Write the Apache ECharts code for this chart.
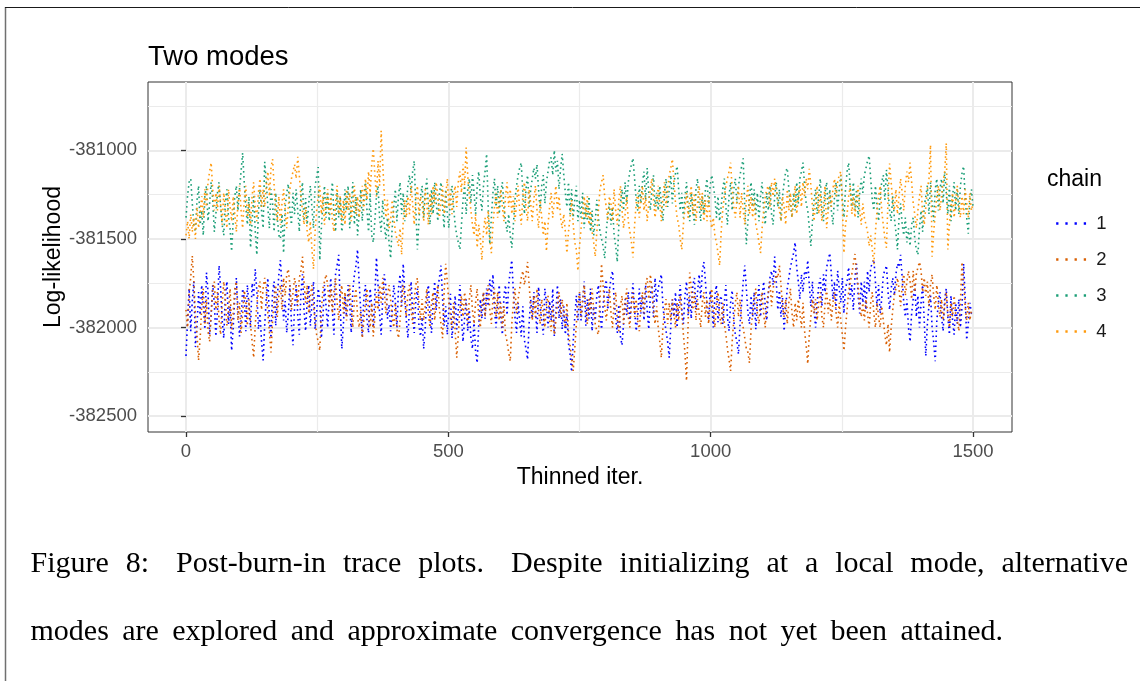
<!DOCTYPE html>
<html>
<head>
<meta charset="utf-8">
<title>Two modes</title>
<script src="https://cdn.jsdelivr.net/npm/echarts@6/dist/echarts.min.js"></script>
<style>
  html, body { margin: 0; padding: 0; background: #ffffff; }
  #chart { width: 1140px; height: 681px; }
</style>
</head>
<body>
<div id="chart"></div>
<script>
// Thinned MCMC iterations: one stored value every ITER_STEP iterations.
const ITER_STEP = 3;

// Log-likelihood traces of the four chains (iterations 0, 3, ..., 1500).
const chain1 = [
  -382160, -381960, -381780, -382020, -381850, -381740, -382110, -381990, -381800, -381930,
  -381760, -381880, -382010, -381690, -381800, -382040, -381930, -381760, -381870, -382050,
  -381900, -381650, -381780, -381960, -382060, -381820, -381740, -381980, -381880, -382130,
  -382000, -381830, -381720, -381900, -382050, -381960, -381780, -381840, -382020, -381760,
  -381880, -382000, -381750, -381830, -381670, -381790, -382010, -381920, -382080, -382185,
  -381990, -381840, -381720, -381950, -382060, -381800, -381740, -381990, -381830, -381700,
  -381620, -381780, -381960, -381850, -382030, -381920, -381760, -381980, -382100, -381880,
  -381760, -381930, -382040, -381810, -381700, -381900, -382020, -381850, -381760, -381990,
  -381870, -381740, -382010, -381920, -381780, -381840, -382060, -381940, -381760, -381880,
  -382000, -381830, -381720, -381900, -382040, -381700, -381650, -381590, -381880, -382120,
  -381980, -381820, -381940, -381760, -381860, -382030, -381790, -381700, -381650, -381560,
  -381740, -381900, -382050, -381830, -381760, -381960, -382030, -381780, -381880, -382000,
  -381820, -381605, -381760, -381920, -382040, -381830, -381700, -381770, -381950, -381870,
  -382020, -381900, -381760, -381850, -382000, -381780, -381700, -381880, -381640, -381800,
  -381960, -382060, -381880, -381740, -381920, -382030, -381850, -381780, -381990, -382050,
  -381940, -382120, -382000, -381820, -381760, -381940, -382030, -381860, -381740, -381900,
  -381780, -381720, -381650, -381830, -381990, -381880, -382040, -381900, -381810, -382060,
  -381960, -381820, -382010, -381900, -381760, -381930, -382080, -381950, -381840, -382020,
  -381900, -382060, -382120, -381960, -382140, -382200, -381980, -381840, -381950, -381800,
  -381950, -381780, -381880, -381730, -381820, -381700, -381900, -382000, -381860, -381760,
  -381940, -382040, -381820, -381760, -381930, -381760, -381680, -381620, -381800, -381940,
  -382030, -381860, -381960, -382050, -381880, -382070, -382120, -382180, -381980, -381840,
  -381950, -381800, -381900, -382030, -381770, -381880, -381960, -382040, -381780, -381860,
  -382000, -381850, -381960, -381780, -382050, -381920, -381760, -381950, -381840, -382010,
  -381880, -382040, -381920, -382090, -382150, -382250, -382080, -381940, -381820, -381960,
  -381800, -381960, -381860, -381740, -381990, -381840, -381950, -381780, -382020, -381880,
  -381960, -381820, -381760, -381900, -382010, -381880, -381780, -381730, -381900, -381790,
  -381720, -381680, -381840, -381950, -382030, -381870, -382050, -382100, -381980, -381840,
  -381930, -381800, -381960, -381850, -381750, -381900, -382020, -381940, -381780, -381920,
  -381820, -381960, -381760, -381900, -382010, -381820, -381760, -381940, -381720, -381860,
  -381780, -381740, -381700, -381880, -381960, -382020, -382080, -382170, -381990, -381840,
  -381940, -381800, -382000, -381860, -381760, -381900, -381980, -381820, -381740, -381930,
  -381820, -381950, -381760, -381720, -381900, -381800, -381700, -381840, -381680, -381630,
  -381740, -381880, -381960, -381790, -381860, -382000, -381820, -381760, -381970, -381850,
  -381820, -381980, -381860, -381760, -381940, -382020, -381860, -381790, -381960, -382040,
  -382080, -382150, -381980, -381860, -381740, -381650, -381780, -381920, -381980, -381820,
  -381940, -381800, -382010, -381860, -381760, -381940, -381830, -381740, -381880, -381960,
  -381800, -381720, -381680, -381760, -381600, -381740, -381900, -381790, -381940, -381830,
  -382020, -381880, -381780, -381720, -381660, -381620, -381580, -381520, -381660, -381740,
  -381840, -381700, -381800, -381680, -381720, -381620, -381760, -381880, -381740, -381900,
  -382000, -381860, -381760, -381720, -381880, -381700, -381800, -381660, -381620, -381580,
  -381700, -381840, -381740, -381900, -381680, -381780, -381860, -381720, -381920, -381780,
  -381740, -381660, -381840, -381760, -381900, -381720, -381640, -381820, -381920, -381740,
  -381860, -381740, -381900, -381680, -381800, -381660, -381640, -381615, -381740, -381880,
  -381760, -381920, -381840, -381700, -381680, -381650, -381800, -381900, -381780, -381720,
  -381820, -381700, -381640, -381660, -381590, -381720, -381860, -381940, -381840, -382000,
  -382080, -381920, -381840, -381760, -381940, -381820, -382000, -381860, -381760, -381960,
  -382160, -381980, -381880, -381820, -382000, -382080, -382190, -381960, -381860, -381800,
  -381940, -382020, -381840, -381780, -381940, -382040, -381820, -381960, -382040, -381860,
  -381980, -381840, -382000, -381880, -381640, -381820, -382070, -381980, -381860, -381920,
  -381920
];

const chain2 = [
  -381900, -382000, -381800, -381720, -381595, -381740, -381940, -382040, -382185, -382060,
  -381880, -381780, -381980, -381840, -382020, -382080, -381920, -381780, -381740, -381900,
  -381800, -381960, -382040, -381860, -381740, -381840, -381990, -381920, -381780, -382010,
  -381920, -381780, -381740, -381960, -381860, -382030, -381920, -381790, -381850, -381990,
  -381840, -381980, -382080, -382170, -381980, -381880, -381780, -381740, -381900, -381780,
  -381720, -381780, -381920, -382020, -382140, -381960, -381840, -381760, -381940, -381820,
  -381760, -381900, -381720, -381820, -381700, -381670, -381760, -381900, -381800, -381720,
  -381780, -381880, -381720, -381680, -381600, -381740, -381860, -381760, -381920, -381820,
  -381760, -381880, -381960, -382040, -382080, -382130, -381900, -381780, -381740, -381700,
  -381760, -381880, -381780, -381920, -381800, -381720, -381860, -381960, -381820, -381760,
  -381920, -381800, -381960, -381840, -381760, -381900, -382000, -381840, -381780, -381940,
  -382000, -381900, -382060, -381960, -381860, -381780, -381920, -382000, -381860, -382050,
  -381940, -381800, -381900, -381760, -381860, -381720, -381800, -381920, -381820, -381760,
  -381840, -381940, -382000, -381860, -382010, -382060, -381960, -381840, -381760, -381860,
  -381940, -381800, -381760, -381900, -381980, -381840, -381760, -381720, -381860, -381960,
  -381840, -381960, -381880, -381780, -381920, -382000, -381860, -381800, -381960, -381840,
  -381760, -381900, -381980, -382060, -381800, -381640, -381740, -381860, -381940, -382000,
  -381860, -382020, -382170, -382040, -381900, -381820, -381940, -381800, -381880, -381980,
  -381840, -381760, -381900, -381980, -381860, -381780, -381940, -382000, -381860, -381800,
  -381940, -381820, -381760, -381900, -381980, -381840, -381780, -381940, -381800, -381960,
  -381860, -382000, -381880, -382040, -382080, -382140, -382190, -381980, -381860, -381780,
  -381920, -381840, -381780, -381720, -381680, -381760, -381700, -381630, -381760, -381880,
  -381960, -381820, -381940, -381780, -381900, -381980, -381840, -381920, -382000, -381860,
  -381820, -381960, -382020, -381880, -382040, -381960, -381860, -381800, -381940, -381840,
  -381920, -382000, -381860, -382030, -382100, -382170, -382245, -382120, -381980, -381860,
  -381800, -381940, -381840, -381760, -381900, -381980, -381840, -381920, -381780, -381900,
  -381980, -382020, -382040, -381840, -381640, -381760, -381880, -381960, -381860, -381780,
  -381920, -382000, -381860, -381800, -381960, -382020, -381880, -381820, -381980, -381860,
  -381780, -381940, -382000, -381860, -381800, -381940, -381840, -381960, -382020, -381880,
  -381800, -381920, -381760, -381720, -381840, -381700, -381780, -381900, -381980, -381880,
  -382000, -382080, -382170, -382000, -381900, -381840, -381980, -381860, -381960, -381840,
  -381920, -382000, -381860, -381960, -381820, -381920, -382040, -382140, -382300, -381980,
  -381690, -381780, -381900, -381800, -381960, -381840, -381920, -382000, -381860, -381800,
  -381940, -381840, -381980, -381860, -381780, -381920, -382000, -381860, -381800, -381940,
  -381980, -381860, -381980, -382040, -382120, -382180, -382245, -382080, -381960, -381860,
  -381800, -381940, -381840, -381960, -382000, -382060, -382120, -382140, -382200, -382000,
  -381920, -381840, -381780, -381920, -381980, -381860, -381800, -381920, -382000, -381860,
  -381800, -381740, -381880, -381780, -381740, -381700, -381720, -381650, -381760, -381880,
  -381940, -381840, -381980, -381860, -381780, -381920, -382000, -381860, -381960, -381840,
  -381920, -382000, -381860, -382020, -382100, -382205, -382040, -381940, -381840, -381920,
  -381840, -381960, -381860, -381800, -381940, -382000, -381860, -381780, -381920, -381840,
  -381960, -381860, -381800, -381920, -382000, -381860, -381960, -382040, -382130, -382000,
  -381900, -381800, -381740, -381700, -381640, -381585, -381700, -381760, -381880, -381940,
  -381860, -381960, -381840, -381920, -382000, -381860, -381800, -381920, -382000, -381860,
  -381940, -382000, -381880, -381960, -382040, -382100, -381980, -382140, -382000, -381900,
  -381820, -381780, -381720, -381780, -381880, -381760, -381700, -381820, -381740, -381680,
  -381740, -381840, -381680, -381800, -381700, -381660, -381630, -381680, -381800, -381720,
  -381820, -381740, -381880, -381760, -381700, -381820, -381900, -381760, -381860, -381940,
  -381840, -381960, -381880, -381800, -381920, -382000, -381860, -381940, -381820, -381920,
  -381960, -382020, -381860, -381630, -381740, -381880, -381960, -381860, -381960, -381900,
  -381900
];

const chain3 = [
  -381380, -381260, -381180, -381160, -381300, -381420, -381460, -381280, -381200, -381420,
  -381340, -381480, -381260, -381200, -381400, -381300, -381180, -381280, -381460, -381360,
  -381240, -381180, -381320, -381420, -381480, -381300, -381220, -381380, -381440, -381570,
  -381400, -381260, -381200, -381340, -381220, -381120, -381015, -381180, -381320, -381420,
  -381260, -381550, -381400, -381260, -381460, -381590, -381360, -381220, -381340, -381440,
  -381065, -381180, -381320, -381440, -381220, -381300, -381460, -381240, -381380, -381480,
  -381500, -381360, -381580, -381320, -381240, -381190, -381340, -381420, -381240, -381360,
  -381220, -381340, -381460, -381260, -381180, -381400, -381270, -381420, -381300, -381200,
  -381320, -381440, -381200, -381150, -381095, -381620, -381440, -381300, -381200, -381380,
  -381240, -381400, -381280, -381180, -381360, -381460, -381240, -381380, -381260, -381460,
  -381380, -381220, -381340, -381200, -381440, -381300, -381180, -381420, -381260, -381480,
  -381360, -381220, -381400, -381260, -381180, -381340, -381460, -381240, -381480, -381520,
  -381400, -381260, -381200, -381380, -381460, -381280, -381420, -381500, -381380, -381520,
  -381610, -381440, -381320, -381220, -381400, -381260, -381180, -381360, -381240, -381400,
  -381300, -381200, -381140, -381240, -381120, -381060, -381320, -381560, -381400, -381260,
  -381200, -381380, -381240, -381160, -381320, -381420, -381220, -381360, -381180, -381300,
  -381400, -381240, -381180, -381320, -381440, -381220, -381360, -381440, -381260, -381200,
  -381320, -381420, -381480, -381520, -381560, -381420, -381280, -381200, -381360, -381220,
  -381160, -381300, -381140, -381240, -381360, -381200, -381120, -381260, -381340, -381200,
  -381120, -381020, -381320, -381530, -381380, -381240, -381160, -381320, -381200, -381360,
  -381240, -381180, -381320, -381400, -381460, -381360, -381480, -381550, -381420, -381280,
  -381200, -381140, -381100, -381070, -381240, -381360, -381220, -381140, -381320, -381220,
  -381160, -381100, -381160, -381080, -381220, -381340, -381200, -381140, -381300, -381180,
  -381120, -381060, -381040, -381140, -381000, -381120, -381060, -381220, -381100, -381020,
  -381140, -381240, -381320, -381180, -381360, -381220, -381380, -381280, -381200, -381400,
  -381280, -381380, -381240, -381440, -381300, -381400, -381260, -381460, -381340, -381480,
  -381400, -381280, -381380, -381460, -381500, -381540, -381610, -381460, -381360, -381300,
  -381420, -381320, -381480, -381540, -381630, -381420, -381300, -381220, -381340, -381180,
  -381300, -381180, -381120, -381080, -381045, -381160, -381280, -381340, -381200, -381300,
  -381180, -381120, -381280, -381100, -381240, -381340, -381220, -381140, -381320, -381240,
  -381340, -381200, -381300, -381400, -381240, -381160, -381320, -381220, -381140, -381300,
  -381180, -381130, -381090, -381220, -381340, -381240, -381380, -381260, -381180, -381320,
  -381400, -381240, -381320, -381420, -381220, -381160, -381320, -381400, -381260, -381360,
  -381220, -381160, -381320, -381200, -381140, -381130, -381260, -381380, -381260, -381400,
  -381320, -381220, -381160, -381320, -381420, -381260, -381180, -381340, -381220, -381160,
  -381300, -381200, -381140, -381090, -381045, -381320, -381530, -381400, -381260, -381180,
  -381320, -381220, -381360, -381240, -381400, -381260, -381180, -381340, -381420, -381240,
  -381340, -381200, -381360, -381420, -381260, -381180, -381320, -381220, -381400, -381260,
  -381180, -381120, -381100, -381220, -381300, -381380, -381240, -381340, -381180, -381300,
  -381160, -381120, -381070, -381200, -381300, -381340, -381440, -381540, -381400, -381280,
  -381220, -381360, -381260, -381160, -381340, -381400, -381240, -381180, -381340, -381220,
  -381340, -381420, -381260, -381180, -381340, -381220, -381140, -381280, -381380, -381220,
  -381120, -381070, -381220, -381320, -381180, -381340, -381220, -381380, -381240, -381160,
  -381240, -381140, -381100, -381060, -381030, -381160, -381280, -381340, -381200, -381320,
  -381400, -381260, -381180, -381140, -381280, -381110, -381220, -381340, -381400, -381260,
  -381380, -381460, -381560, -381380, -381300, -381420, -381480, -381380, -381520, -381440,
  -381540, -381420, -381380, -381500, -381560, -381590, -381440, -381340, -381460, -381320,
  -381260, -381200, -381360, -381180, -381300, -381400, -381220, -381160, -381340, -381220,
  -381160, -381300, -381120, -381240, -381360, -381200, -381400, -381260, -381180, -381340,
  -381220, -381360, -381200, -381130, -381090, -381260, -381380, -381470, -381280, -381220,
  -381320
];

const chain4 = [
  -381480, -381400, -381500, -381360, -381460, -381380, -381500, -381320, -381440, -381360,
  -381260, -381380, -381220, -381320, -381180, -381120, -381070, -381220, -381340, -381240,
  -381340, -381200, -381300, -381420, -381240, -381340, -381440, -381220, -381320, -381400,
  -381260, -381360, -381460, -381300, -381200, -381340, -381440, -381280, -381200, -381380,
  -381300, -381420, -381260, -381180, -381320, -381400, -381240, -381160, -381320, -381220,
  -381320, -381200, -381120, -381260, -381100, -381050, -381200, -381340, -381400, -381260,
  -381420, -381300, -381220, -381340, -381440, -381320, -381220, -381160, -381120, -381080,
  -381160, -381037, -381140, -381260, -381340, -381420, -381320, -381460, -381520, -381400,
  -381560, -381670, -381460, -381340, -381260, -381200, -381360, -381260, -381420, -381300,
  -381220, -381360, -381260, -381400, -381460, -381300, -381200, -381360, -381260, -381400,
  -381280, -381420, -381220, -381340, -381240, -381400, -381300, -381200, -381360, -381260,
  -381380, -381280, -381200, -381340, -381160, -381280, -381120, -381240, -381080, -380990,
  -381140, -381260, -381060, -381200, -380890, -381080, -381260, -381380, -381280, -381440,
  -381400, -381280, -381380, -381460, -381500, -381540, -381440, -381590, -381400, -381280,
  -381380, -381260, -381360, -381200, -381300, -381420, -381280, -381200, -381360, -381260,
  -381300, -381400, -381220, -381300, -381420, -381240, -381360, -381200, -381300, -381180,
  -381260, -381380, -381280, -381200, -381360, -381260, -381160, -381320, -381220, -381360,
  -381260, -381200, -381320, -381180, -381120, -381240, -381080, -381200, -380985, -381140,
  -381260, -381340, -381420, -381480, -381360, -381550, -381420, -381500, -381620, -381460,
  -381380, -381480, -381340, -381500, -381580, -381420, -381320, -381240, -381380, -381280,
  -381220, -381320, -381400, -381260, -381180, -381320, -381220, -381360, -381260, -381400,
  -381300, -381200, -381340, -381420, -381260, -381180, -381320, -381400, -381220, -381300,
  -381400, -381280, -381200, -381340, -381440, -381280, -381380, -381480, -381400, -381570,
  -381420, -381320, -381240, -381380, -381280, -381200, -381340, -381260, -381380, -381440,
  -381360, -381460, -381580, -381460, -381380, -381280, -381420, -381520, -381560, -381680,
  -381540, -381440, -381360, -381260, -381380, -381260, -381420, -381340, -381460, -381520,
  -381600, -381460, -381340, -381220, -381180, -381140, -381260, -381320, -381400, -381260,
  -381300, -381400, -381220, -381340, -381420, -381280, -381200, -381340, -381440, -381360,
  -381260, -381400, -381460, -381520, -381605, -381420, -381300, -381240, -381380, -381280,
  -381200, -381340, -381260, -381400, -381300, -381220, -381160, -381280, -381380, -381300,
  -381200, -381300, -381400, -381260, -381180, -381320, -381220, -381140, -381100, -381050,
  -381180, -381300, -381380, -381420, -381500, -381560, -381420, -381320, -381240, -381380,
  -381280, -381200, -381360, -381240, -381400, -381300, -381200, -381340, -381240, -381400,
  -381280, -381400, -381260, -381380, -381440, -381380, -381480, -381520, -381580, -381650,
  -381460, -381340, -381260, -381200, -381160, -381120, -381070, -381220, -381320, -381380,
  -381280, -381200, -381380, -381240, -381340, -381420, -381280, -381200, -381360, -381260,
  -381380, -381280, -381420, -381460, -381520, -381580, -381440, -381340, -381260, -381220,
  -381200, -381320, -381180, -381260, -381160, -381150, -381280, -381340, -381400, -381260,
  -381320, -381420, -381220, -381340, -381240, -381380, -381280, -381200, -381360, -381260,
  -381200, -381320, -381180, -381260, -381160, -381220, -381105, -381200, -381320, -381400,
  -381280, -381200, -381360, -381240, -381400, -381300, -381200, -381440, -381340, -381240,
  -381320, -381220, -381160, -381260, -381180, -381140, -381120, -381320, -381580, -381420,
  -381360, -381260, -381200, -381360, -381260, -381380, -381280, -381200, -381340, -381420,
  -381300, -381380, -381420, -381460, -381540, -381480, -381560, -381645, -381460, -381340,
  -381260, -381200, -381340, -381420, -381500, -381550, -381280, -381075, -381180, -381300,
  -381340, -381220, -381360, -381260, -381160, -381240, -381340, -381200, -381120, -381180,
  -381070, -381180, -381300, -381360, -381440, -381340, -381260, -381200, -381360, -381420,
  -381320, -381220, -381160, -380970, -381600, -381460, -381360, -381260, -381200, -381340,
  -381260, -381180, -381120, -380960, -381560, -381420, -381320, -381240, -381380, -381280,
  -381200, -381320, -381380, -381260, -381360, -381220, -381300, -381380, -381240, -381340,
  -381300
];

const chainNames = ['1', '2', '3', '4'];
const chainValues = [chain1, chain2, chain3, chain4];
const chainColors = ['#0000FF', '#D95F02', '#1B9E77', '#FF9A0D'];

// Axis breaks (major labelled ticks and minor grid positions).
const xMajorTicks = [0, 500, 1000, 1500];
const xMinorTicks = [250, 750, 1250];
const yMajorTicks = [-382500, -382000, -381500, -381000];
const yMinorTicks = [-382250, -381750, -381250, -380750];

const titleText = 'Two modes';
const xAxisTitle = 'Thinned iter.';
const yAxisTitle = 'Log-likelihood';
const legendTitle = 'chain';
const captionLines = [
  'Figure 8:  Post-burn-in trace plots.  Despite initializing at a local mode, alternative',
  'modes are explored and approximate convergence has not yet been attained.'
];

const SANS = '"Liberation Sans", Arial, Helvetica, sans-serif';
const SERIF = '"Liberation Serif", "Times New Roman", serif';

// Lay out one justified caption line word by word.
function justifiedLine(text, x0, x1, yMid, fontSize) {
  const words = text.split(/\s+/);
  const ctx = document.createElement('canvas').getContext('2d');
  ctx.font = fontSize + 'px ' + SERIF;
  const widths = words.map(w => ctx.measureText(w).width);
  const weights = words.slice(0, -1).map(w => (/[.:]$/.test(w) ? 1.6 : 1));
  const used = widths.reduce((a, b) => a + b, 0);
  const unit = ((x1 - x0) - used) / weights.reduce((a, b) => a + b, 0);
  const out = [];
  let x = x0;
  words.forEach((w, i) => {
    out.push({
      type: 'text', x: x, y: yMid, silent: true,
      style: {
        text: w, fontSize: fontSize, fontFamily: SERIF, fill: '#000000',
        align: 'left', verticalAlign: 'middle', textAlign: 'left', textVerticalAlign: 'middle'
      }
    });
    x += widths[i] + (i < weights.length ? weights[i] * unit : 0);
  });
  return out;
}

const chart = echarts.init(document.getElementById('chart'), null, { renderer: 'canvas' });

const xMin = -72.4, xMax = 1574.3;
const yMin = -382589, yMax = -380615;

const series = chainValues.map((vals, k) => ({
  name: chainNames[k],
  type: 'line',
  xAxisIndex: 0,
  yAxisIndex: 0,
  data: vals.map((v, i) => [i * ITER_STEP, v]),
  symbol: 'none',
  showSymbol: false,
  silent: true,
  clip: true,
  animation: false,
  lineStyle: { color: chainColors[k], width: 1.6, type: [1.6, 3.4], cap: 'butt' },
  itemStyle: { color: chainColors[k] },
  z: 3 + k
}));

const graphics = [
  { type: 'line', silent: true, shape: { x1: 5.5, y1: 7, x2: 5.5, y2: 681 }, style: { stroke: '#707070', lineWidth: 1.5 } },
  { type: 'line', silent: true, shape: { x1: 5, y1: 7.5, x2: 1140, y2: 7.5 }, style: { stroke: '#1A1A1A', lineWidth: 1 } },
  {
    type: 'text', x: 1047, y: 180, silent: true,
    style: { text: legendTitle, fontSize: 23, fontFamily: SANS, fill: '#000000',
             align: 'left', verticalAlign: 'middle', textAlign: 'left', textVerticalAlign: 'middle' }
  }
].concat(
  justifiedLine(captionLines[0], 30.5, 1128, 564, 30),
  justifiedLine(captionLines[1], 30.5, 1003, 632, 30)
);

chart.setOption({
  backgroundColor: '#ffffff',
  animation: false,
  title: {
    text: titleText, left: 143, top: 38,
    textStyle: { fontSize: 27.5, fontWeight: 'normal', color: '#000000', fontFamily: SANS }
  },
  grid: {
    left: 148, top: 82, width: 864, height: 350,
    show: true, borderColor: '#333333', borderWidth: 1, backgroundColor: 'transparent'
  },
  legend: {
    orient: 'vertical', left: 1050, top: 209,
    itemWidth: 30, itemHeight: 20, itemGap: 17,
    data: chainNames,
    selectedMode: false,
    itemStyle: { opacity: 0 },
    lineStyle: { width: 2.3, type: [2.3, 6.9], cap: 'butt' },
    textStyle: { fontSize: 18.5, color: '#1A1A1A', fontFamily: SANS, padding: [0, 0, 0, 5] }
  },
  xAxis: [
    {
      type: 'value', gridIndex: 0, position: 'bottom', min: xMin, max: xMax,
      name: xAxisTitle, nameLocation: 'middle', nameGap: 33,
      nameTextStyle: { fontSize: 23, color: '#000000', fontFamily: SANS },
      axisLine: { show: false },
      axisTick: { show: true, customValues: xMajorTicks, length: 5, lineStyle: { color: '#333333', width: 1.3 } },
      axisLabel: { customValues: xMajorTicks, fontSize: 18.5, color: '#4D4D4D', fontFamily: SANS, margin: 10,
                   formatter: v => String(v) },
      splitLine: { show: true, lineStyle: { color: '#EBEBEB', width: 2 } },
      z: 1
    },
    {
      type: 'value', gridIndex: 0, position: 'top', min: xMin, max: xMax,
      axisLine: { show: false },
      axisTick: { show: false, customValues: xMinorTicks },
      axisLabel: { show: false, customValues: xMinorTicks },
      splitLine: { show: true, lineStyle: { color: '#EBEBEB', width: 1.2 } },
      z: 0
    }
  ],
  yAxis: [
    {
      type: 'value', gridIndex: 0, position: 'left', min: yMin, max: yMax,
      name: yAxisTitle, nameLocation: 'middle', nameGap: 83, nameRotate: 90,
      nameMoveOverlap: false,
      nameTextStyle: { fontSize: 23, color: '#000000', fontFamily: SANS },
      axisLine: { show: false },
      axisTick: { show: true, customValues: yMajorTicks, length: 5, lineStyle: { color: '#333333', width: 1.3 } },
      axisLabel: { customValues: yMajorTicks, fontSize: 18.5, color: '#4D4D4D', fontFamily: SANS, margin: 11,
                   formatter: v => String(v) },
      splitLine: { show: true, lineStyle: { color: '#EBEBEB', width: 2 } },
      z: 1
    },
    {
      type: 'value', gridIndex: 0, position: 'right', min: yMin, max: yMax,
      axisLine: { show: false },
      axisTick: { show: false, customValues: yMinorTicks },
      axisLabel: { show: false, customValues: yMinorTicks },
      splitLine: { show: true, lineStyle: { color: '#EBEBEB', width: 1.2 } },
      z: 0
    }
  ],
  series: series,
  graphic: graphics
});
</script>
</body>
</html>
